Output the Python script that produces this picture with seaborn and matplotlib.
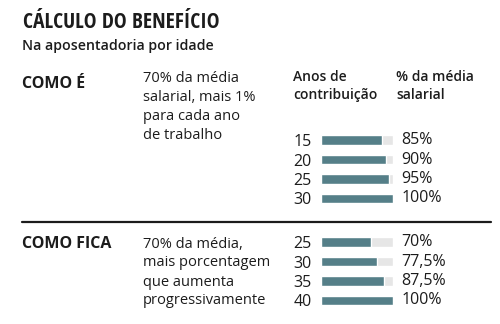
import matplotlib
matplotlib.use("Agg")
import matplotlib.pyplot as plt
import seaborn as sns
import pandas as pd

sns.set_theme(style="white")
plt.rcParams["font.family"] = ["Open Sans", "DejaVu Sans"]

# Regra atual: anos de contribuição x % da média salarial
anos_atual = ["15", "20", "25", "30"]
pct_atual = [85, 90, 95, 100]
rotulos_atual = ["85%", "90%", "95%", "100%"]

# Nova regra
anos_nova = ["25", "30", "35", "40"]
pct_nova = [70, 77.5, 87.5, 100]
rotulos_nova = ["70%", "77,5%", "87,5%", "100%"]

BAR = "#557f88"
TRACK = "#e6e6e6"
INK = "#1c1c1c"

W, H = 500, 324
fig = plt.figure(figsize=(W / 100, H / 100), dpi=100)
fig.patch.set_facecolor("white")


def px_axes(x0, y_top, x1, y_bot):
    return fig.add_axes([x0 / W, 1 - y_bot / H, (x1 - x0) / W, (y_bot - y_top) / H])


def grupo(ax, anos, pct, rotulos):
    df = pd.DataFrame({"anos": anos, "pct": pct, "total": [100] * len(anos)})
    sns.barplot(data=df, x="total", y="anos", color=TRACK, width=0.48,
                saturation=1, ax=ax)
    sns.barplot(data=df, x="pct", y="anos", color=BAR, width=0.48,
                saturation=1, ax=ax)
    ax.set_xlim(0, 100)
    ax.set_ylim(len(anos) - 0.5, -0.5)
    ax.set_xlabel("")
    ax.set_ylabel("")
    ax.set_xticks([])
    ax.tick_params(axis="y", length=0, pad=6.5, labelsize=11.5, labelcolor=INK)
    for s in ax.spines.values():
        s.set_visible(False)
    ax.set_facecolor("none")
    for i, r in enumerate(rotulos):
        ax.annotate(r, xy=(100, i), xytext=(6, 0), textcoords="offset points",
                    ha="left", va="center", fontsize=11.5, color=INK)


ax1 = px_axes(321, 130.25, 393, 208.25)
grupo(ax1, anos_atual, pct_atual, rotulos_atual)
ax2 = px_axes(321, 232.25, 393, 310.25)
grupo(ax2, anos_nova, pct_nova, rotulos_nova)


def txt(x, y, s, **kw):
    fig.text(x / W, 1 - y / H, s, color=INK, va="center", ha="left", **kw)


txt(23, 23, "CÁLCULO DO BENEFÍCIO", fontsize=15.5, fontweight="bold",
    family=["Open Sans Condensed", "DejaVu Sans"])
txt(22, 46, "Na aposentadoria por idade", fontsize=10.2, fontweight="semibold")

txt(22, 84, "COMO É", fontsize=11.5, fontweight="bold")
for i, linha in enumerate(["70% da média", "salarial, mais 1%",
                           "para cada ano", "de trabalho"]):
    txt(143, 79 + i * 18.7, linha, fontsize=10.5)

txt(293, 77, "Anos de", fontsize=10, fontweight="semibold")
txt(293, 95, "contribuição", fontsize=10, fontweight="semibold")
txt(396, 77, "% da média", fontsize=10, fontweight="semibold")
txt(396, 95, "salarial", fontsize=10, fontweight="semibold")

fig.add_artist(plt.Line2D([22 / W, 491 / W], [1 - 222 / H, 1 - 222 / H],
                          color=INK, lw=1.6))

txt(22, 244, "COMO FICA", fontsize=11.5, fontweight="bold")
for i, linha in enumerate(["70% da média,", "mais porcentagem",
                           "que aumenta", "progressivamente"]):
    txt(143, 244 + i * 19, linha, fontsize=10.5)

fig.savefig("out.png", dpi=100, facecolor="white")
